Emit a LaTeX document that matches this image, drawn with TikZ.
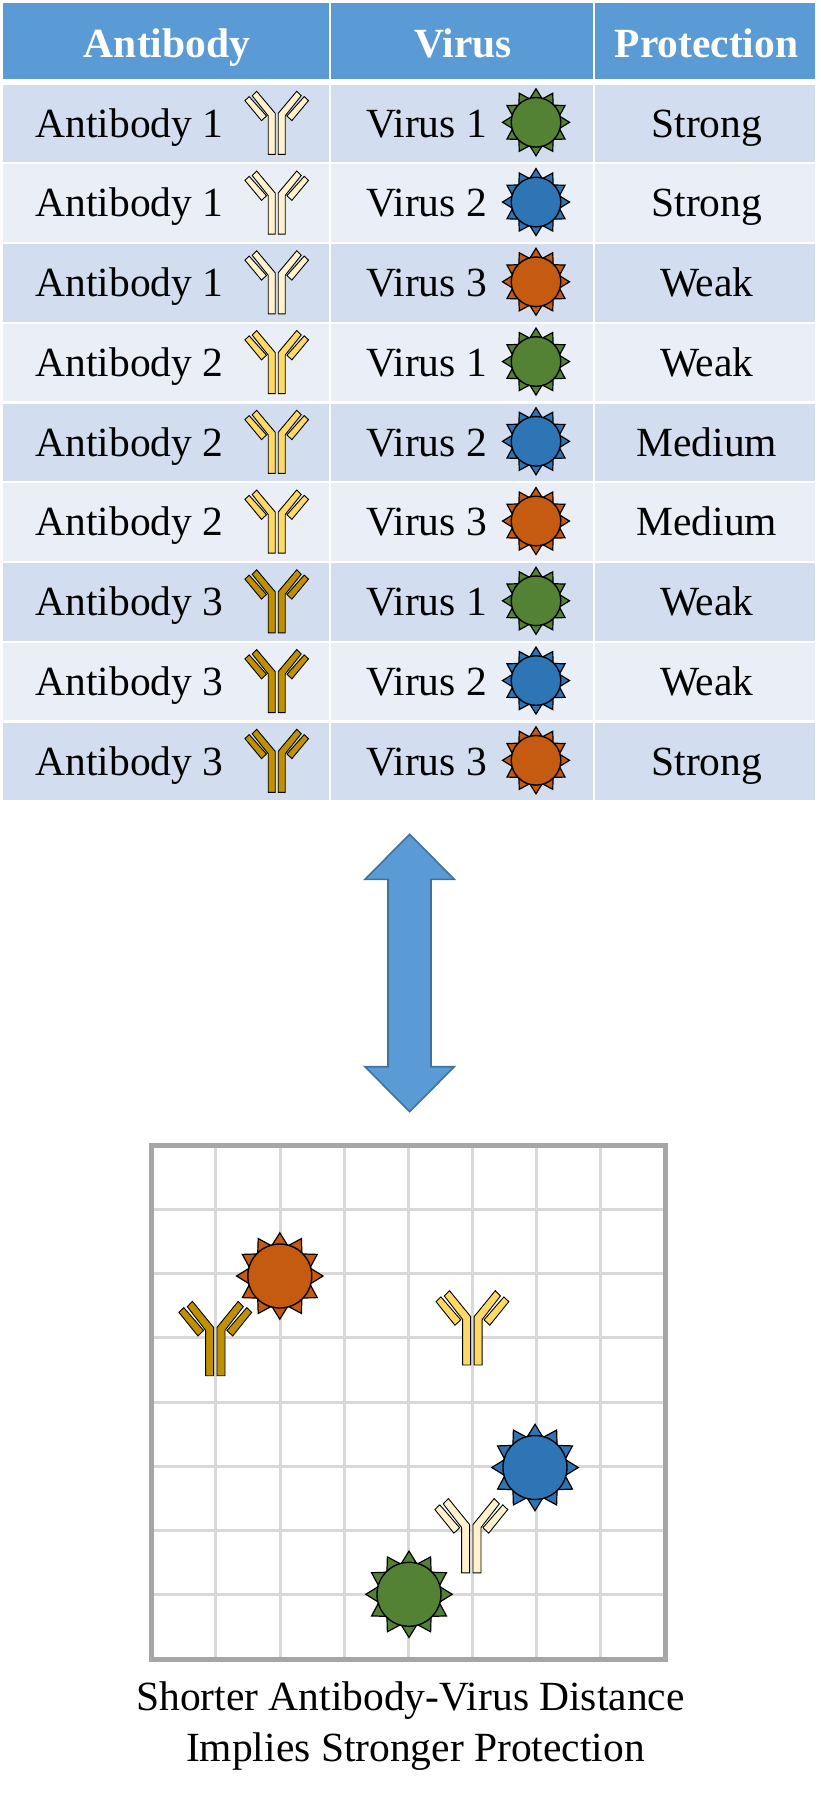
\documentclass[tikz,border=0pt]{standalone}
\usepackage{fontspec}
\setmainfont{Liberation Serif}
\definecolor{hdr}{HTML}{5B9BD5}
\definecolor{bandA}{HTML}{D2DEEF}
\definecolor{bandB}{HTML}{EAEFF7}
\definecolor{arrowedge}{HTML}{41719C}
\definecolor{gridc}{HTML}{D9D9D9}
\definecolor{framec}{HTML}{A6A6A6}
\definecolor{abA}{HTML}{FFF2CC}
\definecolor{abB}{HTML}{FFD966}
\definecolor{abC}{HTML}{BF9000}
\definecolor{vA}{HTML}{548235}
\definecolor{vB}{HTML}{2E75B6}
\definecolor{vC}{HTML}{C55A11}
\tikzset{
  x=1pt,y=-1pt,
  celltext/.style={inner sep=0pt,anchor=base,font=\fontsize{41.5}{41.5}\selectfont,text=black},
  headtext/.style={inner sep=0pt,anchor=base,font=\fontsize{41.5}{41.5}\selectfont\bfseries,text=white},
  captext/.style={inner sep=0pt,anchor=base,font=\fontsize{41.5}{41.5}\selectfont,text=black},
  abline/.style={draw=black,line width=0.9pt,line join=miter},
  antibody/.pic={
    \path[abline,fill=#1]
      (-8.5,0)--(-1.5,0)--(-1.5,-41)--(-20,-63)--(-24.5,-58.5)--(-8.5,-38.5)--cycle;
    \path[abline,fill=#1]
      (8.5,0)--(1.5,0)--(1.5,-41)--(20,-63)--(24.5,-58.5)--(8.5,-38.5)--cycle;
    \path[abline,fill=#1]
      (-31.8,-53.7)--(-27.5,-57.7)--(-10.2,-38.3)--(-15.2,-33.7)--cycle;
    \path[abline,fill=#1]
      (31.8,-53.7)--(27.5,-57.7)--(10.2,-38.3)--(15.2,-33.7)--cycle;
  },
  virus/.pic={
    \path[draw=black,line width=1.2pt,line join=miter,fill=#1]
      (0:33.5)
      \foreach \a in {0,30,...,330}{ -- (\a+15:24.2) -- (\a+30:33.5) } -- cycle;
    \path[draw=black,line width=1.4pt,fill=#1] (0,0) circle[radius=24.8];
  },
}
\newcommand{\tablerow}[7]{%
  % #1 row no, #2 band, #3 antibody label, #4 antibody colour, #5 virus label, #6 virus colour, #7 protection
  \pgfmathsetmacro{\rt}{84.6+79.75*(#1-1)}
  \pgfmathsetmacro{\rb}{\rt+77.5}
  \pgfmathsetmacro{\rc}{122.3+79.75*(#1-1)}
  \pgfmathsetmacro{\rbase}{137.2+79.75*(#1-1)}
  \pgfmathsetmacro{\abbot}{154.3+79.75*(#1-1)}
  \fill[#2] (2.6,\rt) rectangle (329.3,\rb);
  \fill[#2] (331,\rt) rectangle (592.7,\rb);
  \fill[#2] (594.7,\rt) rectangle (815,\rb);
  \node[celltext] (ab#1) at (129.5,\rbase) {#3};
  \node[celltext] (vi#1) at (426.5,\rbase) {#5};
  \node[celltext] (pr#1) at (706.8,\rbase) {#7};
  \pic at (276.7,\abbot) {antibody=#4};
  \pic at (536,\rc) {virus=#6};
}
\begin{document}
\begin{tikzpicture}
\useasboundingbox (0,0) rectangle (821,1796);
\fill[white] (0,0) rectangle (821,1796);
% header
\fill[hdr] (2.6,3) rectangle (329.3,78.7);
\fill[hdr] (331,3) rectangle (592.7,78.7);
\fill[hdr] (594.7,3) rectangle (815,78.7);
\node[headtext] (h1) at (167,57.2) {Antibody};
\node[headtext] (h2) at (463,57.2) {Virus};
\node[headtext] (h3) at (706.5,57.2) {Protection};
% rows
\tablerow{1}{bandA}{Antibody 1}{abA}{Virus 1}{vA}{Strong}
\tablerow{2}{bandB}{Antibody 1}{abA}{Virus 2}{vB}{Strong}
\tablerow{3}{bandA}{Antibody 1}{abA}{Virus 3}{vC}{Weak}
\tablerow{4}{bandB}{Antibody 2}{abB}{Virus 1}{vA}{Weak}
\tablerow{5}{bandA}{Antibody 2}{abB}{Virus 2}{vB}{Medium}
\tablerow{6}{bandB}{Antibody 2}{abB}{Virus 3}{vC}{Medium}
\tablerow{7}{bandA}{Antibody 3}{abC}{Virus 1}{vA}{Weak}
\tablerow{8}{bandB}{Antibody 3}{abC}{Virus 2}{vB}{Weak}
\tablerow{9}{bandA}{Antibody 3}{abC}{Virus 3}{vC}{Strong}
% double arrow
\draw[arrowedge,fill=hdr,line width=1.6pt,line join=miter]
  (409.6,834.3)--(454.3,879.3)--(431,879.3)--(431,1066.7)--(454.3,1066.7)
  --(409.6,1111.7)--(365,1066.7)--(388,1066.7)--(388,879.3)--(365,879.3)--cycle;
% plot grid
\foreach \k in {1,...,7}{
  \draw[gridc,line width=3pt] ({151.8+64.15*\k},1145.5)--({151.8+64.15*\k},1659.5);
  \draw[gridc,line width=3pt] (151.8,{1145.5+64.15*\k})--(665,{1145.5+64.15*\k});
}
\draw[framec,line width=5pt,line join=miter] (151.8,1145.5) rectangle (665,1659.5);
% plot items
\pic[xscale=1.145,yscale=1.18] at (215.3,1375.7) {antibody=abC};
\pic[xscale=1.145,yscale=1.18] at (472.4,1365) {antibody=abB};
\pic[xscale=1.145,yscale=1.18] at (471.3,1572.9) {antibody=abA};
\pic[scale=1.29] at (279.8,1276) {virus=vC};
\pic[scale=1.29] at (535,1467.5) {virus=vB};
\pic[scale=1.29] at (409,1594.3) {virus=vA};
% caption
\node[captext] (c1) at (410.5,1710) {Shorter Antibody-Virus Distance};
\node[captext] (c2) at (415.5,1761) {Implies Stronger Protection};
\end{tikzpicture}
\end{document}
